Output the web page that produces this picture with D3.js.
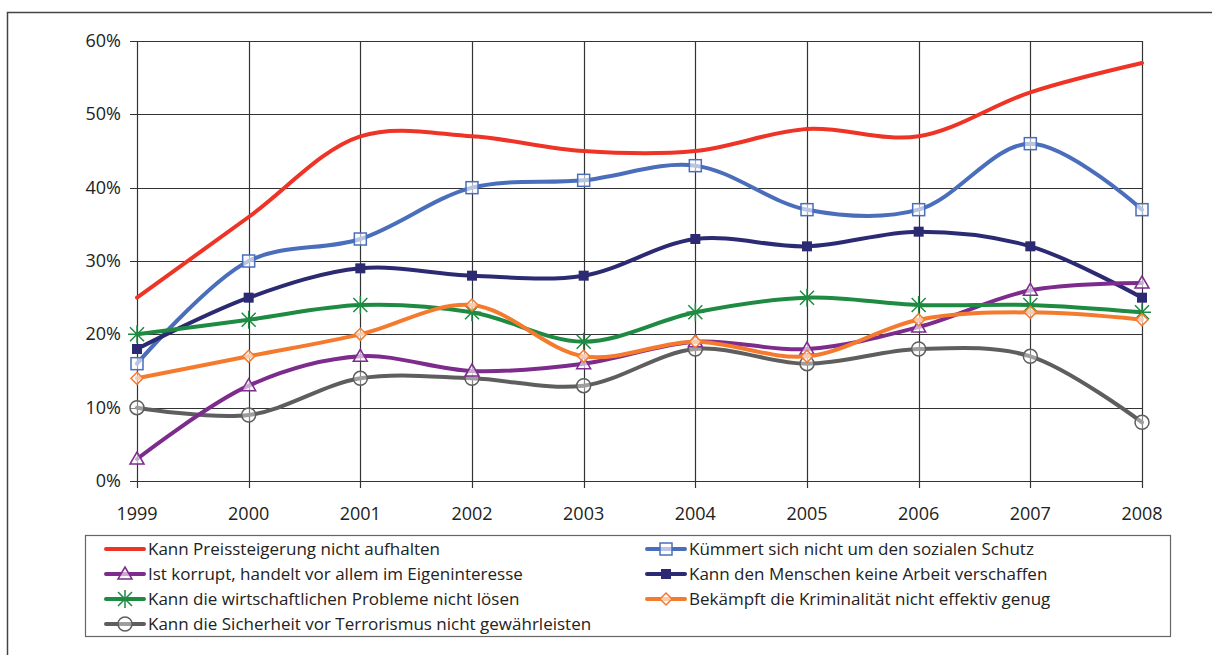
<!DOCTYPE html>
<html>
<head>
<meta charset="utf-8">
<script src="https://cdn.jsdelivr.net/npm/d3@7"></script>
<style>
	body { margin: 0; background: #fff; }
	svg { font-family: "Open Sans", "DejaVu Sans", sans-serif; }
</style>
</head>
<body>
<div class="wrapper"></div>
<script>

var years = [1999, 2000, 2001, 2002, 2003, 2004, 2005, 2006, 2007, 2008];
var yTicks = [0, 10, 20, 30, 40, 50, 60];

var names = [
	"Kann Preissteigerung nicht aufhalten",
	"Kümmert sich nicht um den sozialen Schutz",
	"Ist korrupt, handelt vor allem im Eigeninteresse",
	"Kann den Menschen keine Arbeit verschaffen",
	"Kann die wirtschaftlichen Probleme nicht lösen",
	"Bekämpft die Kriminalität nicht effektiv genug",
	"Kann die Sicherheit vor Terrorismus nicht gewährleisten"
];

var preis   = [25, 36, 47, 47, 45, 45, 48, 47, 53, 57];
var sozial  = [16, 30, 33, 40, 41, 43, 37, 37, 46, 37];
var korrupt = [3, 13, 17, 15, 16, 19, 18, 21, 26, 27];
var arbeit  = [18, 25, 29, 28, 28, 33, 32, 34, 32, 25];
var wirt    = [20, 22, 24, 23, 19, 23, 25, 24, 24, 23];
var krimi   = [14, 17, 20, 24, 17, 19, 17, 22, 23, 22];
var terror  = [10, 9, 14, 14, 13, 18, 16, 18, 17, 8];

var colors = ["#EE3426", "#4A6EBB", "#7D2B8D", "#2C2A73", "#1E8A42", "#F47A2E", "#5E5E5E"];
var markers = ["none", "square", "triangle", "filled", "star", "diamond", "circle"];
var values = [preis, sozial, korrupt, arbeit, wirt, krimi, terror];

var series = names.map(function(n, i) {
	return {name: n, values: values[i], color: colors[i], marker: markers[i]};
});

// draw order: back to front
var drawOrder = [0, 1, 3, 6, 2, 4, 5];

var W = 1212, H = 655;

var svg = d3.select(".wrapper")
	.append("svg")
		.attr("width", W)
		.attr("height", H);

// outer frame
svg.append("path")
	.attr("d", "M7.5," + H + " V12.5 H" + W)
	.attr("fill", "none")
	.attr("stroke", "#444")
	.attr("stroke-width", 1.5);

var x = d3.scalePoint()
	.domain(years)
	.range([137, 1142]);

var y = d3.scaleLinear()
	.domain([0, 60])
	.range([481, 41]);

var grid = svg.append("g").attr("class", "grid");

grid.selectAll(".hline")
	.data(yTicks)
	.enter()
	.append("line")
		.attr("x1", 130)
		.attr("x2", 1142)
		.attr("y1", function(d) {return Math.round(y(d)) + 0.5;})
		.attr("y2", function(d) {return Math.round(y(d)) + 0.5;})
		.attr("stroke", "#333")
		.attr("stroke-width", 1.2);

grid.selectAll(".vline")
	.data(years)
	.enter()
	.append("line")
		.attr("x1", function(d) {return Math.round(x(d)) + 0.5;})
		.attr("x2", function(d) {return Math.round(x(d)) + 0.5;})
		.attr("y1", 41)
		.attr("y2", 488)
		.attr("stroke", "#333")
		.attr("stroke-width", 1.2);

// axis labels
svg.selectAll(".ylab")
	.data(yTicks)
	.enter()
	.append("text")
		.text(function(d) {return d + "%";})
		.attr("x", 121)
		.attr("y", function(d) {return y(d) + 6;})
		.attr("text-anchor", "end")
		.attr("font-size", 18)
		.attr("fill", "#222");

svg.selectAll(".xlab")
	.data(years)
	.enter()
	.append("text")
		.text(function(d) {return d;})
		.attr("x", function(d) {return x(d);})
		.attr("y", 520)
		.attr("text-anchor", "middle")
		.attr("font-size", 18)
		.attr("fill", "#222");

var line = d3.line()
	.x(function(d, i) {return x(years[i]);})
	.y(function(d) {return y(d);})
	.curve(d3.curveCatmullRom.alpha(0.5));

function drawMarker(g, type, color, cx, cy) {
	if (type == "square") {
		g.append("rect")
			.attr("x", cx - 6).attr("y", cy - 6)
			.attr("width", 12).attr("height", 12)
			.attr("fill", "#fff").attr("fill-opacity", 0.6)
			.attr("stroke", color).attr("stroke-width", 1.5);
	} else if (type == "filled") {
		g.append("rect")
			.attr("x", cx - 5).attr("y", cy - 5)
			.attr("width", 10).attr("height", 10)
			.attr("fill", color);
	} else if (type == "triangle") {
		g.append("path")
			.attr("d", "M" + cx + "," + (cy - 7) + " L" + (cx + 7) + "," + (cy + 5) + " L" + (cx - 7) + "," + (cy + 5) + " Z")
			.attr("fill", "#fff").attr("fill-opacity", 0.6)
			.attr("stroke", color).attr("stroke-width", 1.5);
	} else if (type == "diamond") {
		g.append("path")
			.attr("d", "M" + cx + "," + (cy - 6) + " L" + (cx + 6) + "," + cy + " L" + cx + "," + (cy + 6) + " L" + (cx - 6) + "," + cy + " Z")
			.attr("fill", "#fff").attr("fill-opacity", 0.6)
			.attr("stroke", color).attr("stroke-width", 1.5);
	} else if (type == "circle") {
		g.append("circle")
			.attr("cx", cx).attr("cy", cy).attr("r", 7)
			.attr("fill", "#fff").attr("fill-opacity", 0.4)
			.attr("stroke", color).attr("stroke-width", 1.5);
	} else if (type == "star") {
		var s = 9, d = 7;
		g.append("path")
			.attr("d", "M" + (cx - s) + "," + cy + " H" + (cx + s) +
				" M" + cx + "," + (cy - s) + " V" + (cy + s) +
				" M" + (cx - d) + "," + (cy - d) + " L" + (cx + d) + "," + (cy + d) +
				" M" + (cx - d) + "," + (cy + d) + " L" + (cx + d) + "," + (cy - d))
			.attr("stroke", color).attr("stroke-width", 1.5);
	}
}

var plot = svg.append("g").attr("class", "plot");

drawOrder.forEach(function(k) {
	var s = series[k];
	var g = plot.append("g");
	g.append("path")
		.attr("d", line(s.values))
		.attr("fill", "none")
		.attr("stroke", s.color)
		.attr("stroke-width", 4)
		.attr("stroke-linecap", "round");
	s.values.forEach(function(v, i) {
		drawMarker(g, s.marker, s.color, x(years[i]), y(v));
	});
});

// legend
svg.append("rect")
	.attr("x", 85.5)
	.attr("y", 535.5)
	.attr("width", 1085)
	.attr("height", 101)
	.attr("fill", "#fff")
	.attr("stroke", "#666")
	.attr("stroke-width", 1.2);

var legend = svg.selectAll(".legend")
	.data(series)
	.enter()
	.append("g")
		.attr("class", "legend")
		.attr("transform", function(d, i) {
			var col = i % 2, row = Math.floor(i / 2);
			return "translate(" + (col ? 647 : 106) + "," + (549 + row * 25) + ")";
		});

legend.append("line")
	.attr("x1", 0)
	.attr("x2", 38)
	.attr("stroke", function(d) {return d.color;})
	.attr("stroke-width", 4)
	.attr("stroke-linecap", "round");

legend.each(function(d) {
	drawMarker(d3.select(this), d.marker, d.color, 19, 0);
});

legend.append("text")
	.text(function(d) {return d.name;})
	.attr("x", 42)
	.attr("y", 6)
	.attr("font-size", 17)
	.attr("fill", "#222");

</script>
</body>
</html>
